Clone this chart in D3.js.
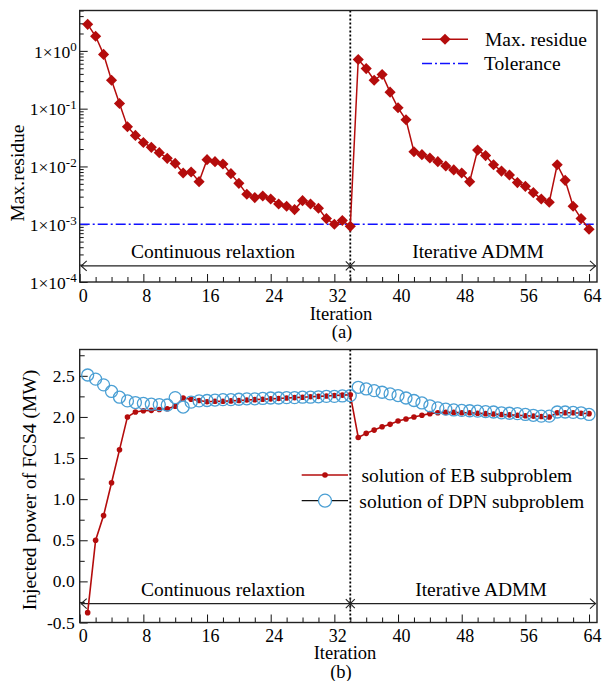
<!DOCTYPE html>
<html>
<head>
<meta charset="utf-8">
<script src="https://cdn.jsdelivr.net/npm/d3@7"></script>
<style>
  body { margin: 0; background: #fff; }
  svg { display: block; font-family: "Liberation Serif", "Times New Roman", serif; }
  svg text { font-family: "Liberation Serif", "Times New Roman", serif; }
</style>
</head>
<body>
<svg id="chart" width="605" height="681"></svg>
<script>
// iteration index
const iterations = [1, 2, 3, 4, 5, 6, 7, 8, 9, 10, 11, 12, 13, 14, 15, 16,
  17, 18, 19, 20, 21, 22, 23, 24, 25, 26, 27, 28, 29, 30, 31, 32,
  33, 34, 35, 36, 37, 38, 39, 40, 41, 42, 43, 44, 45, 46, 47, 48,
  49, 50, 51, 52, 53, 54, 55, 56, 57, 58, 59, 60, 61, 62, 63, 64];

// (a) max residue
const maxResidue = [2.88, 1.79, 0.87, 0.31, 0.123, 0.0487, 0.0344, 0.026,
  0.0214, 0.0173, 0.0138, 0.0113, 0.0077, 0.008, 0.00546, 0.0131,
  0.0121, 0.011, 0.0075, 0.0051, 0.0033, 0.00289, 0.00308, 0.00273,
  0.00224, 0.00205, 0.00179, 0.00256, 0.00224, 0.00189, 0.00125, 0.001,
  0.00116, 0.00092, 0.708, 0.494, 0.31, 0.39, 0.193, 0.1035,
  0.0642, 0.018, 0.016, 0.014, 0.0121, 0.0102, 0.0087, 0.0077,
  0.00546, 0.0192, 0.0154, 0.0107, 0.0083, 0.0071, 0.00525, 0.00453,
  0.00352, 0.00273, 0.0024, 0.0107, 0.00575, 0.00205, 0.00125, 0.00082];
const tolerance = 1e-3;

// (b) injected power of FCS4
const ebSolution = [-0.38, 0.5, 0.8, 1.2, 1.6, 2.0, 2.06, 2.075,
  2.08, 2.09, 2.1, 2.13, 2.23, 2.215, 2.2, 2.185,
  2.19, 2.19, 2.195, 2.2, 2.205, 2.21, 2.215, 2.22,
  2.225, 2.23, 2.235, 2.24, 2.245, 2.25, 2.255, 2.26,
  2.265, 2.27, 1.75, 1.8, 1.84, 1.88, 1.91, 1.95,
  1.975, 2.0, 2.02, 2.04, 2.05, 2.055, 2.055, 2.05,
  2.05, 2.045, 2.04, 2.035, 2.03, 2.025, 2.02, 2.015,
  2.01, 2.005, 2.0, 2.05, 2.05, 2.05, 2.045, 2.04];
const dpnSolution = [2.51, 2.46, 2.39, 2.31, 2.24, 2.195, 2.175, 2.165,
  2.155, 2.15, 2.145, 2.235, 2.12, 2.18, 2.195, 2.2,
  2.205, 2.21, 2.21, 2.215, 2.22, 2.22, 2.225, 2.23,
  2.23, 2.235, 2.235, 2.24, 2.24, 2.245, 2.25, 2.25,
  2.255, 2.26, 2.36, 2.34, 2.32, 2.3, 2.28, 2.26,
  2.23, 2.2, 2.17, 2.135, 2.11, 2.095, 2.085, 2.08,
  2.075, 2.07, 2.065, 2.06, 2.05, 2.045, 2.04, 2.03,
  2.02, 2.01, 2.01, 2.06, 2.06, 2.055, 2.05, 2.03];

const switchIter = 34;
const xTicks = [0, 8, 16, 24, 32, 40, 48, 56, 64];
const logTicks = [1e-4, 1e-3, 1e-2, 1e-1, 1];
const logExp = ["-4", "-3", "-2", "-1", "0"];
const powerTicks = [-0.5, 0.0, 0.5, 1.0, 1.5, 2.0, 2.5];

const red = "#b40c0c";
const blue = "#4a9fd4";
const serif = "'Liberation Serif', 'Times New Roman', serif";
const svg = d3.select("#chart");

// scales
const x = d3.scaleLinear().domain([0, 65]).range([79.7, 597]);
const yTop = d3.scaleLog().domain([1e-4, 5]).range([282, 10.5]);
const yBot = d3.scaleLinear().domain([-0.5, 2.82]).range([622.5, 349.5]);

const residueData = iterations.map((it, i) => ({ it, v: maxResidue[i] }));
const ebData = iterations.map((it, i) => ({ it, v: ebSolution[i] }));
const dpnData = iterations.map((it, i) => ({ it, v: dpnSolution[i] }));

// x axis with inward ticks
function drawXAxis(yPos) {
  const minor = svg.append("g").attr("transform", `translate(0,${yPos})`)
    .call(d3.axisBottom(x).tickValues(d3.range(2, 65, 2).filter(d => d % 8)).tickSize(-5).tickFormat(""));
  minor.select(".domain").remove();
  const major = svg.append("g").attr("transform", `translate(0,${yPos})`)
    .call(d3.axisBottom(x).tickValues(xTicks).tickSize(-8).tickPadding(7))
    .attr("font-family", serif);
  major.select(".domain").remove();
  major.selectAll("text")
    .attr("fill", "#000")
    .style("font-size", "18px")
    .attr("dx", 3);
  svg.selectAll(".tick line").attr("stroke", "#111");
}

function drawFrame(yScale) {
  const [y0, y1] = yScale.range();
  svg.append("rect")
    .attr("x", x(0))
    .attr("y", y1)
    .attr("width", x(65) - x(0))
    .attr("height", y0 - y1)
    .attr("fill", "none")
    .attr("stroke", "#222")
    .attr("stroke-width", 1.4);
}

function drawSpan(yScale, yVal, mark, leftLabel, rightLabel, lx, rx) {
  const yy = yScale(yVal);
  const xs = x(switchIter);
  const g = svg.append("g").attr("stroke", "#222").attr("stroke-width", 1.1).attr("fill", "none");
  g.append("line").attr("x1", x(0) + 1).attr("x2", x(65) - 1).attr("y1", yy).attr("y2", yy);
  g.append("path").attr("d", `M${x(0) + 7},${yy - 5}L${x(0) + 1.5},${yy}L${x(0) + 7},${yy + 5}`);
  g.append("path").attr("d", `M${x(65) - 7},${yy - 5}L${x(65) - 1.5},${yy}L${x(65) - 7},${yy + 5}`);
  const s = 4.5;
  if (mark === "x") {
    g.append("path").attr("d", `M${xs - s},${yy - s}L${xs + s},${yy + s}M${xs - s},${yy + s}L${xs + s},${yy - s}`);
  } else {
    g.append("path").attr("d", `M${xs - s},${yy - s}L${xs + s},${yy + s}M${xs - s},${yy + s}L${xs + s},${yy - s}M${xs},${yy - s - 1}L${xs},${yy + s + 1}`);
  }
  svg.append("text").attr("x", lx).attr("y", yy - 7.5).attr("text-anchor", "middle")
    .style("font-size", "19.5px").text(leftLabel);
  svg.append("text").attr("x", rx).attr("y", yy - 7.5).attr("text-anchor", "middle")
    .style("font-size", "19.5px").text(rightLabel);
}

function drawDivider(yScale) {
  const [y0, y1] = yScale.range();
  svg.append("line")
    .attr("x1", x(switchIter)).attr("x2", x(switchIter))
    .attr("y1", y1).attr("y2", y0)
    .attr("stroke", "#000")
    .attr("stroke-width", 1.8)
    .attr("stroke-dasharray", "2,2");
}

// ---------- (a) ----------
// log y axis
const topMinorVals = [];
[-4, -3, -2, -1, 0].forEach(e => {
  [2, 3, 4, 5, 6, 7, 8, 9].forEach(m => {
    const v = m * Math.pow(10, e);
    if (v <= 5) topMinorVals.push(v);
  });
});
const topMinor = svg.append("g").attr("transform", `translate(${x(0)},0)`)
  .call(d3.axisLeft(yTop).tickValues(topMinorVals).tickSize(-4).tickFormat(""));
topMinor.select(".domain").remove();
const topMajor = svg.append("g").attr("transform", `translate(${x(0)},0)`)
  .call(d3.axisLeft(yTop).tickValues(logTicks).tickSize(-8).tickPadding(3).tickFormat(""))
  .attr("font-family", serif);
topMajor.select(".domain").remove();
topMajor.selectAll(".tick text").each(function (d, i) {
  const t = d3.select(this).attr("fill", "#000").attr("dy", "0.36em").style("font-size", "17.5px");
  t.append("tspan").text("1\u00d710");
  t.append("tspan").attr("dy", "-0.5em").style("font-size", "13px").text(logExp[i]);
});

drawXAxis(yTop.range()[0]);

// tolerance
svg.append("line")
  .attr("x1", x(0)).attr("x2", x(65))
  .attr("y1", yTop(tolerance)).attr("y2", yTop(tolerance))
  .attr("stroke", "#1010ff")
  .attr("stroke-width", 1.5)
  .attr("stroke-dasharray", "10,3,2,3");

drawDivider(yTop);
drawSpan(yTop, 1.9e-4, "x", "Continuous relaxtion", "Iterative ADMM", 213, 478);

// residue line + diamonds
const diamond = d3.symbol().type(d3.symbolSquare).size(62);
svg.append("path")
  .datum(residueData)
  .attr("fill", "none")
  .attr("stroke", red)
  .attr("stroke-width", 1.5)
  .attr("d", d3.line().x(d => x(d.it)).y(d => yTop(d.v)));
svg.append("g")
  .selectAll("path")
  .data(residueData)
  .enter()
  .append("path")
  .attr("d", diamond)
  .attr("transform", d => `translate(${x(d.it)},${yTop(d.v)}) rotate(45)`)
  .attr("fill", red);

drawFrame(yTop);

// legend (a)
const legA = svg.append("g");
legA.append("line").attr("x1", 422).attr("x2", 468).attr("y1", 39.3).attr("y2", 39.3)
  .attr("stroke", red).attr("stroke-width", 1.5);
legA.append("path").attr("d", diamond).attr("transform", "translate(445,39.3) rotate(45)").attr("fill", red);
legA.append("text").attr("x", 485).attr("y", 46).style("font-size", "19.5px").text("Max. residue");
legA.append("line").attr("x1", 422).attr("x2", 468).attr("y1", 63.5).attr("y2", 63.5)
  .attr("stroke", "#1010ff").attr("stroke-width", 1.5).attr("stroke-dasharray", "10,3,2,3");
legA.append("text").attr("x", 484).attr("y", 70).style("font-size", "19.5px").text("Tolerance");

// titles (a)
svg.append("text").attr("transform", "translate(24,173) rotate(-90)").attr("text-anchor", "middle")
  .style("font-size", "19.5px").text("Max.residue");
svg.append("text").attr("x", 341).attr("y", 320).attr("text-anchor", "middle")
  .style("font-size", "18.5px").text("Iteration");
svg.append("text").attr("x", 342).attr("y", 338).attr("text-anchor", "middle")
  .style("font-size", "18.5px").text("(a)");

// ---------- (b) ----------
const botMinor = svg.append("g").attr("transform", `translate(${x(0)},0)`)
  .call(d3.axisLeft(yBot).tickValues([-0.25, 0.25, 0.75, 1.25, 1.75, 2.25, 2.75]).tickSize(-5).tickFormat(""));
botMinor.select(".domain").remove();
const botMajor = svg.append("g").attr("transform", `translate(${x(0)},0)`)
  .call(d3.axisLeft(yBot).tickValues(powerTicks).tickSize(-8).tickPadding(5).tickFormat(d => d.toFixed(1)))
  .attr("font-family", serif);
botMajor.select(".domain").remove();
botMajor.selectAll(".tick text").attr("fill", "#000").style("font-size", "17.5px");

drawXAxis(yBot.range()[0]);
drawDivider(yBot);
drawSpan(yBot, -0.27, "*", "Continuous relaxtion", "Iterative ADMM", 223, 481);

svg.append("path")
  .datum(ebData)
  .attr("fill", "none")
  .attr("stroke", red)
  .attr("stroke-width", 1.6)
  .attr("d", d3.line().x(d => x(d.it)).y(d => yBot(d.v)));
svg.append("g")
  .selectAll("circle")
  .data(ebData)
  .enter()
  .append("circle")
  .attr("cx", d => x(d.it))
  .attr("cy", d => yBot(d.v))
  .attr("r", 2.8)
  .attr("fill", red);
svg.append("g")
  .selectAll("circle")
  .data(dpnData)
  .enter()
  .append("circle")
  .attr("cx", d => x(d.it))
  .attr("cy", d => yBot(d.v))
  .attr("r", 6)
  .attr("fill", "none")
  .attr("stroke", blue)
  .attr("stroke-width", 1.3);

drawFrame(yBot);

// legend (b)
const legB = svg.append("g");
legB.append("line").attr("x1", 301.7).attr("x2", 348).attr("y1", 475).attr("y2", 475)
  .attr("stroke", red).attr("stroke-width", 1.6);
legB.append("circle").attr("cx", 325).attr("cy", 475).attr("r", 2.8).attr("fill", red);
legB.append("text").attr("x", 361.5).attr("y", 482).style("font-size", "19.5px").text("solution of EB subproblem");
legB.append("line").attr("x1", 301.7).attr("x2", 348).attr("y1", 500.7).attr("y2", 500.7)
  .attr("stroke", "#111").attr("stroke-width", 1.2);
legB.append("circle").attr("cx", 325).attr("cy", 500.7).attr("r", 6.5)
  .attr("fill", "#fff").attr("stroke", blue).attr("stroke-width", 1.3);
legB.append("text").attr("x", 359.3).attr("y", 507.5).style("font-size", "19.5px").text("solution of DPN subproblem");

// titles (b)
svg.append("text").attr("transform", "translate(35.5,490) rotate(-90)").attr("text-anchor", "middle")
  .style("font-size", "19.5px").text("Injected power of FCS4 (MW)");
svg.append("text").attr("x", 345).attr("y", 659).attr("text-anchor", "middle")
  .style("font-size", "18.5px").text("Iteration");
svg.append("text").attr("x", 341).attr("y", 678).attr("text-anchor", "middle")
  .style("font-size", "18.5px").text("(b)");
</script>
</body>
</html>
